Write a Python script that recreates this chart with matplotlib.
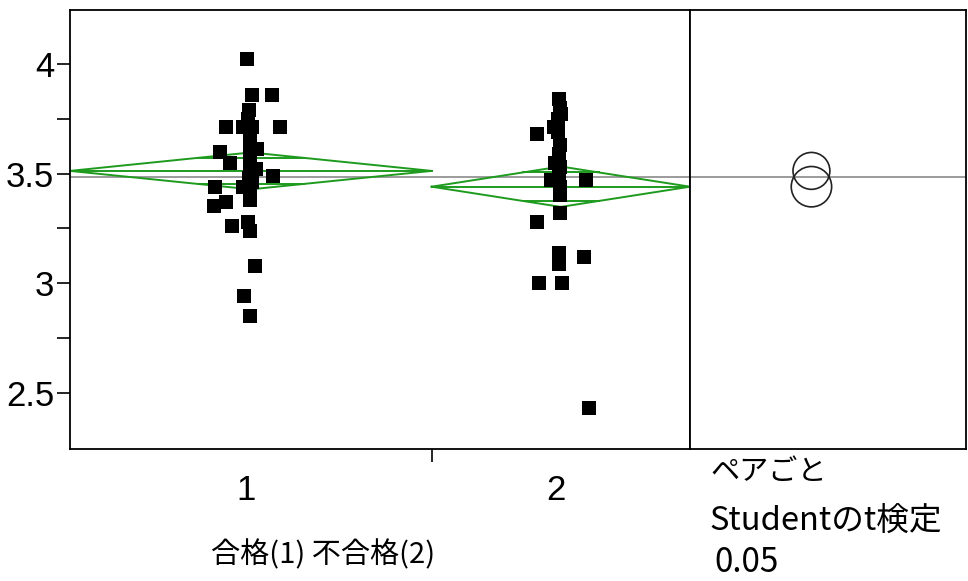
import numpy as np
import matplotlib
matplotlib.use('Agg')
import matplotlib.pyplot as plt
from matplotlib.patches import Ellipse

plt.rcParams['font.family'] = ['Noto Sans CJK JP', 'DejaVu Sans']

# ── data ──────────────────────────────────────────────────────────────────
groups      = ['1', '2']
group_n     = [35, 25]          # JMP draws group width proportional to n
values_1 = [4.02, 3.86, 3.86, 3.79, 3.71, 3.71, 3.71, 3.71, 3.65, 3.60, 3.60,
            3.61, 3.55, 3.54, 3.52, 3.49, 3.48, 3.44, 3.44, 3.43, 3.38, 3.37,
            3.35, 3.26, 3.28, 3.24, 3.08, 2.94, 2.85, 3.75, 3.46]
jitter_1 = [-0.4, 0.1, 2.0, -0.2, -2.4, -0.8, 0.1, 2.8, -0.1, -3.0, -0.1,
            0.6, -2.0, -0.1, 0.5, 2.1, -0.2, -3.5, -0.8, -0.1, -0.1, -2.4,
            -3.6, -1.8, -0.3, -0.1, 0.4, -0.7, -0.1, -0.3, 0.1]
values_2 = [3.84, 3.80, 3.75, 3.71, 3.68, 3.69, 3.63, 3.55, 3.53, 3.50, 3.47,
            3.47, 3.44, 3.40, 3.32, 3.28, 3.14, 3.09, 3.12, 3.00, 3.00, 2.43,
            3.77, 3.59]
jitter_2 = [-0.2, -0.1, -0.3, -0.7, -2.3, -0.3, -0.1, -0.6, -0.1, -0.2, -1.0,
            2.4, -0.1, -0.1, -0.1, -2.3, -0.2, -0.2, 2.2, -2.1, 0.1, 2.7,
            0.0, -0.2]
group_mean  = [3.512, 3.440]
group_ci    = [0.084, 0.092]    # half width of the 95% interval
grand_mean  = 3.482
alpha_txt   = '0.05'

W, H = 968, 581
fig = plt.figure(figsize=(W / 100, H / 100), dpi=100)

L, R, T, B, SPLIT = 70, 966, 10, 449, 690
ax = fig.add_axes([L / W, 1 - B / H, (SPLIT - L) / W, (B - T) / H])
axc = fig.add_axes([SPLIT / W, 1 - B / H, (R - SPLIT) / W, (B - T) / H])

ylim = (2.245, 4.245)
total = sum(group_n)
edges = np.concatenate([[0], np.cumsum(group_n)])
centers = (edges[:-1] + edges[1:]) / 2

green = '#1e9b1e'
for i, (m, ci) in enumerate(zip(group_mean, group_ci)):
    x0, x1, xc = edges[i], edges[i + 1], centers[i]
    # means diamond
    ax.plot([x0, xc, x1, xc, x0], [m, m + ci, m, m - ci, m], color=green, lw=1.4)
    ax.plot([x0, x1], [m, m], color=green, lw=1.4)
    # overlap marks
    off = ci / np.sqrt(2)
    hw = (x1 - x0) / 2 * (1 - 1 / np.sqrt(2))
    for s in (1, -1):
        ax.plot([xc - hw, xc + hw], [m + s * off, m + s * off], color=green, lw=1.4)

ax.axhline(grand_mean, color='#808080', lw=1.1, zorder=1)
axc.axhline(grand_mean, color='#808080', lw=1.1, zorder=1)

for vals, jit, xc in [(values_1, jitter_1, centers[0]), (values_2, jitter_2, centers[1])]:
    ax.plot(xc + np.array(jit), vals, 's', color='black', ms=10, mew=0, zorder=3)

ax.set_xlim(0, total)
ax.set_ylim(*ylim)
ax.set_xticks(edges[1:-1])
ax.set_xticklabels([])
ax.tick_params(axis='x', direction='out', length=9, width=1.2)
ax.set_yticks([2.5, 3, 3.5, 4])
ax.set_yticklabels(['2.5', '3', '3.5', '4'], family='Liberation Sans', fontsize=25)
ax.set_yticks([2.75, 3.25, 3.75], minor=True)
ax.tick_params(axis='y', which='both', direction='out', length=9.5, width=1.2, pad=2)
for s in ax.spines.values():
    s.set_linewidth(1.3)

for g, xc in zip(groups, centers):
    ax.text(xc - 0.5, 2.245 - 0.19, g, ha='center', va='center',
            family='Liberation Sans', fontsize=25)

# comparison circles
axc.set_xlim(0, 1)
axc.set_ylim(*ylim)
axc.set_xticks([])
axc.set_yticks([])
for s in axc.spines.values():
    s.set_linewidth(1.3)
ppx = (R - SPLIT)
ppy = (B - T) / (ylim[1] - ylim[0])
for m, ci in zip(group_mean, group_ci):
    axc.add_patch(Ellipse((0.44, m), 2 * ci * ppy / ppx, 2 * ci, fill=False,
                          ec='#222222', lw=1.2))

fig.text(710 / W, 1 - 472 / H, 'ペアごと', ha='left', va='center', fontsize=21)
fig.text(709 / W, 1 - 521 / H, 'Studentのt検定', ha='left', va='center', fontsize=23.5)
fig.text(714 / W, 1 - 563 / H, alpha_txt, ha='left', va='center', fontsize=24)
fig.text(323 / W, 1 - 555 / H, '合格(1) 不合格(2)', ha='center', va='center', fontsize=21)

fig.savefig('out.png', dpi=100)
